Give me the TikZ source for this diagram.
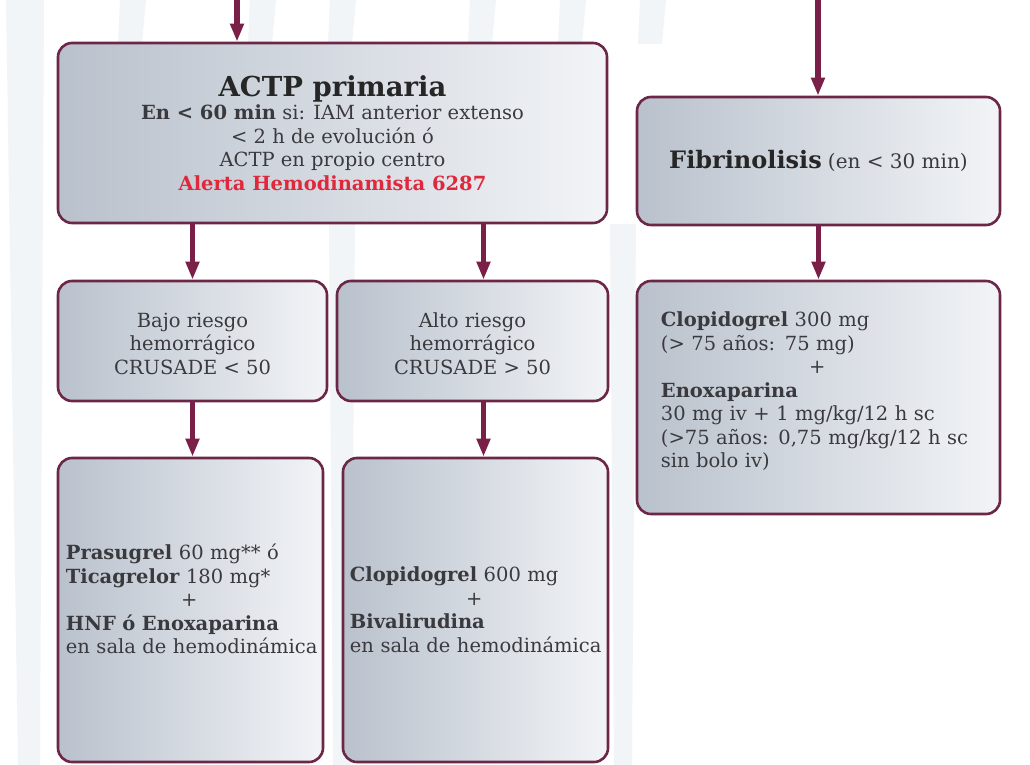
\documentclass[tikz,border=0pt]{standalone}
\usepackage{fontspec}
\setmainfont{DejaVu Serif}
\usetikzlibrary{arrows.meta,calc}
\definecolor{wine}{HTML}{7A1F47}
\definecolor{frame}{HTML}{6C2646}
\definecolor{fillL}{HTML}{B9C1CC}
\definecolor{fillR}{HTML}{F2F4F7}
\definecolor{ink}{HTML}{3A3A3E}
\definecolor{alert}{HTML}{E0283C}
\definecolor{faint}{HTML}{F2F5F8}
\newcommand\txtsize{\fontsize{19.5}{23.5}\selectfont}
\begin{document}
\begin{tikzpicture}[x=1pt,y=-1pt,
  box/.style={draw=frame, line width=2.6pt, rounded corners=14pt,
    left color=fillL, right color=fillR, inner sep=0pt, text=ink, font=\txtsize},
  body/.style={anchor=north west, inner sep=0pt, text=ink, font=\txtsize, align=left},
  link/.style={draw=wine, line width=5.5pt, -{Triangle[length=18pt,width=13pt]}},
]
\useasboundingbox (0,0) rectangle (1030,765);
\fill[white] (0,0) rectangle (1030,765);

% faint background lettering
\fill[faint] (6,0) -- (44,0) -- (40,765) -- (18,765) -- cycle;
\foreach \xa in {120,250,330,470,560,640}
  \fill[faint] (\xa,0) -- (\xa+26,0) -- (\xa+22,44) -- (\xa-2,44) -- cycle;
\foreach \xa in {327,608}
  \fill[faint] (\xa+2,224) -- (\xa+28,224) -- (\xa+24,765) -- (\xa+6,765) -- cycle;

% boxes
\node[box, minimum width=549pt, minimum height=180pt, align=center] (actp) at (332.5,133)
  {{\fontsize{27.5}{30}\selectfont\bfseries\color{black!85} ACTP primaria}\\
   \textbf{En < 60 min} si: IAM anterior extenso\\
   < 2 h de evolución ó\\
   ACTP en propio centro\\
   \textcolor{alert}{\textbf{Alerta Hemodinamista 6287}}};

\node[box, minimum width=363pt, minimum height=128pt] (fib) at (818.5,161)
  {{\fontsize{24}{26}\selectfont\bfseries\color{black!85} Fibrinolisis} {\fontsize{20}{23.5}\selectfont(en < 30 min)}};

\node[box, minimum width=269pt, minimum height=120pt, align=center] (bajo) at (192.5,341)
  {\rule{0pt}{20pt}Bajo riesgo\\hemorrágico\\CRUSADE < 50};
\node[box, minimum width=271pt, minimum height=120pt, align=center] (alto) at (472.5,341)
  {\rule{0pt}{20pt}Alto riesgo\\hemorrágico\\CRUSADE > 50};

\node[box, minimum width=363pt, minimum height=233pt] (clopi) at (818.5,397.5) {};
\node[box, minimum width=265pt, minimum height=304pt] (tbajo) at (190.5,610) {};
\node[box, minimum width=265pt, minimum height=304pt] (talto) at (475.5,610) {};

% box texts
\node[body, text width=313pt] (clopitxt) at ([xshift=25pt,yshift=-32pt]clopi.north west)
  {\textbf{Clopidogrel} 300 mg\\
   (> 75 años: 75 mg)\\
   \makebox[\hsize]{+}\\
   \textbf{Enoxaparina}\\
   30 mg iv + 1 mg/kg/12 h sc\\
   (>75 años: 0,75 mg/kg/12 h sc\\
   sin bolo iv)};
\node[body, text width=247pt] (tbajotxt) at ([xshift=9pt,yshift=-87pt]tbajo.north west)
  {\textbf{Prasugrel} 60 mg** ó\\
   \textbf{Ticagrelor} 180 mg*\\
   \makebox[\hsize]{+}\\
   \textbf{HNF ó Enoxaparina}\\
   \mbox{en sala de hemodinámica}};
\node[body, text width=249pt] (taltotxt) at ([xshift=8pt,yshift=-110pt]talto.north west)
  {\textbf{Clopidogrel} 600 mg\\
   \makebox[\hsize]{+}\\
   \textbf{Bivalirudina}\\
   \mbox{en sala de hemodinámica}};

% incoming arrows
\coordinate (inL) at (237,0);
\coordinate (inR) at (818,0);
\draw[link] (inL) -- (inL |- actp.north);
\draw[link] (inR) -- (inR |- fib.north);

% connectors
\draw[link] (actp.south -| bajo.north) -- (bajo.north);
\draw[link] ([xshift=11pt]alto.north |- actp.south) -- ([xshift=11pt]alto.north);
\draw[link] (fib.south) -- (clopi.north);
\draw[link] (bajo.south) -- (bajo.south |- tbajo.north);
\draw[link] ([xshift=11pt]alto.south) -- ([xshift=11pt]alto.south |- talto.north);
\end{tikzpicture}
\end{document}
